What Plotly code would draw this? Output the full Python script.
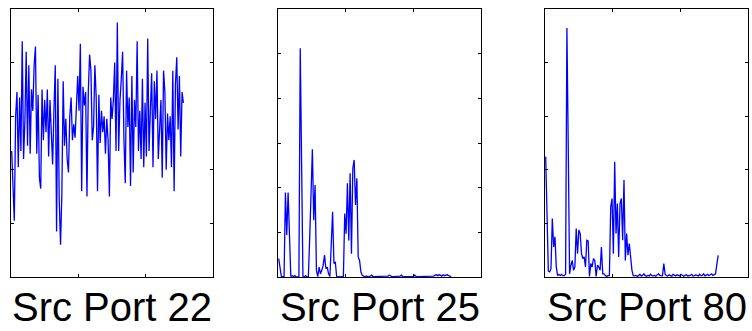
import numpy as np
import plotly.graph_objects as go

titles = ["Src Port 22", "Src Port 25", "Src Port 80"]

port22 = [47, 32, 21, 60, 69, 41, 67, 47, 88, 44, 58, 84, 49, 79, 46, 70, 62, 79, 86, 46,
          68, 37, 33, 70, 51, 66, 54, 70, 45, 66, 50, 42, 62, 79, 17, 74, 29, 12, 31, 73,
          49, 59, 44, 39, 60, 67, 51, 57, 52, 66, 75, 62, 87, 32, 71, 64, 69, 30, 69, 83,
          77, 51, 56, 79, 67, 32, 68, 50, 62, 54, 60, 46, 59, 51, 30, 67, 59, 66, 80, 47,
          95, 47, 66, 74, 84, 51, 35, 77, 56, 67, 34, 75, 39, 66, 56, 88, 47, 62, 44, 74,
          41, 65, 45, 89, 47, 62, 76, 41, 73, 59, 77, 44, 56, 66, 37, 77, 69, 40, 61, 51,
          60, 41, 77, 32, 72, 82, 55, 75, 45, 69, 65]

port25 = [4.1, 1.9, 0.1, 0.1, 0.1, 18.9, 9.4, 18.9, 9.4, 0.1, 0.3, 0.1, 0.3, 0.0, 0.0, 0.0,
          51.2, 25.4, 0.0, 0.0, 0.3, 0.0, 0.0, 8.6, 22.1, 28.6, 12.7, 20.6, 1.5, 0.1, 2.2, 0.7,
          1.5, 2.6, 4.9, 1.9, 2.2, 0.7, 0.1, 8.2, 14.6, 3.0, 3.4, 0.1, 0.0, 0.1, 0.0, 0.1,
          0.0, 14.2, 9.7, 21.0, 8.2, 23.2, 5.2, 24.3, 26.2, 16.1, 22.1, 4.5, 3.7, 1.1, 0.4, 0.2,
          0.1, 0.2, 0.1, 0.1, 0.2, 0.4, 0.1, 0.1, 0.2, 0.1, 0.1, 0.1, 0.2, 0.1, 0.1, 0.1,
          0.1, 0.2, 0.4, 0.2, 0.1, 0.1, 0.1, 0.1, 0.1, 0.1, 0.2, 0.4, 0.1, 0.1, 0.1, 0.1,
          0.1, 0.1, 0.2, 0.1, 0.1, 0.4, 0.1, 0.1, 0.1, 0.1, 0.1, 0.1, 0.1, 0.1, 0.1, 0.1,
          0.1, 0.1, 0.1, 0.2, 0.4, 0.5, 0.3, 0.5, 0.4, 0.2, 0.5, 0.3, 0.4, 0.5, 0.3, 0.1, 0.1]

port80 = [44.9, 25.6, 2.2, 1.9, 3.1, 21.8, 11.2, 15.0, 3.7, 0.5, 1.0, 0.5, 1.0, 0.5, 0.5, 1.0,
          92.9, 48.6, 1.2, 4.4, 6.2, 2.5, 3.7, 18.1, 8.7, 17.5, 16.2, 8.7, 6.9, 7.5, 3.7, 13.7,
          13.5, 0.2, 5.0, 3.7, 6.9, 6.2, 0.2, 4.4, 3.7, 2.5, 11.2, 1.2, 1.2, 0.5, 0.2, 0.5,
          0.5, 26.2, 29.3, 8.7, 43.0, 16.2, 27.4, 7.5, 27.4, 29.3, 13.7, 36.2, 6.2, 16.2, 8.1, 12.5,
          6.2, 2.5, 0.5, 0.4, 0.6, 0.3, 0.5, 1.0, 0.4, 0.6, 1.2, 0.5, 0.3, 0.6, 0.4, 1.0,
          0.5, 0.4, 0.6, 0.3, 0.8, 1.2, 0.6, 0.4, 0.5, 5.0, 1.0, 0.5, 0.4, 0.8, 0.5, 0.3,
          1.0, 0.6, 0.4, 0.8, 0.5, 0.4, 1.0, 0.5, 0.3, 0.6, 0.8, 0.4, 0.5, 0.6, 1.0, 0.4,
          0.5, 0.8, 0.6, 0.4, 1.0, 0.5, 0.6, 1.2, 0.4, 0.6, 1.0, 0.5, 0.8, 1.2, 0.6, 0.8,
          1.2, 5.0, 8.1]

series = [port22, port25, port80]
y_ranges = [[0, 100], [0, 60], [0, 100]]
y_dticks = [20, 10, 20]
x_range = [0, 300]
x_dtick = 100
n_samples = 256

W, H = 752, 331
ml, mr, mt, mb = 11, 4, 9, 54
plot_w = W - ml - mr
panels_px = [(11, 213), (278, 481), (545, 748)]

fig = go.Figure()
for k, vals in enumerate(series):
    xs = np.linspace(1, n_samples, len(vals))
    suffix = "" if k == 0 else str(k + 1)
    fig.add_trace(go.Scatter(
        x=xs, y=vals, mode="lines",
        line=dict(color="#0000ff", width=1.3),
        xaxis="x" + suffix, yaxis="y" + suffix,
        showlegend=False, hoverinfo="skip",
    ))
    a, b = panels_px[k]
    dom = [(a - ml) / plot_w, (b - ml) / plot_w]
    common = dict(showgrid=False, zeroline=False, showticklabels=False,
                  ticks="inside", ticklen=3, tickcolor="black", tickwidth=1,
                  showline=True, linecolor="black", linewidth=1, mirror="ticks")
    fig.layout["xaxis" + suffix] = dict(domain=dom, range=x_range, dtick=x_dtick, tick0=0,
                                        anchor="y" + suffix, **common)
    fig.layout["yaxis" + suffix] = dict(domain=[0, 1], range=y_ranges[k], dtick=y_dticks[k], tick0=0,
                                        anchor="x" + suffix, **common)
    fig.add_annotation(
        text=titles[k], x=(dom[0] + dom[1]) / 2, y=0, xref="paper", yref="paper",
        xanchor="center", yanchor="top", yshift=-6, showarrow=False,
        font=dict(family="Liberation Sans, Arial, sans-serif", size=40, color="black"),
    )

fig.update_layout(
    width=W, height=H,
    margin=dict(l=ml, r=mr, t=mt, b=mb, pad=0),
    paper_bgcolor="white", plot_bgcolor="white",
)
fig.write_html("out.html")
